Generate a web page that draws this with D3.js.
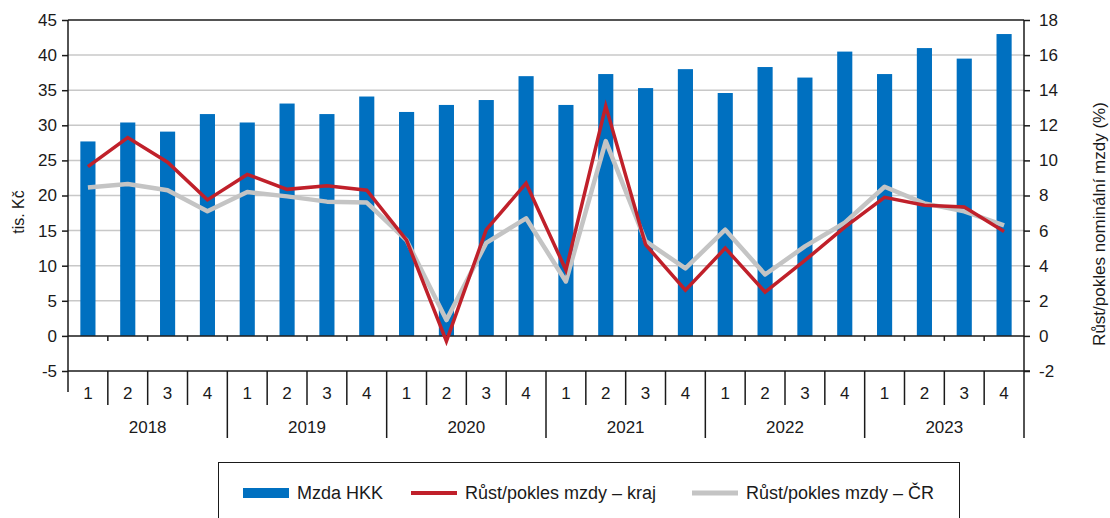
<!DOCTYPE html>
<html>
<head>
<meta charset="utf-8">
<title>Mzda HKK</title>
<script src="https://d3js.org/d3.v7.min.js"></script>
<style>
  body { margin: 0; background: #fff; }
  svg text { font-family: "Liberation Sans", Arial, sans-serif; fill: #1a1a1a; }
</style>
</head>
<body>
<svg width="1110" height="518"></svg>
<script>
// data
const years = ["2018", "2019", "2020", "2021", "2022", "2023"];
const quarters = ["1", "2", "3", "4"];
const wage = [27.7, 30.4, 29.1, 31.6, 30.4, 33.1, 31.6, 34.1, 31.9, 32.9, 33.6, 37.0,
              32.9, 37.3, 35.3, 38.0, 34.6, 38.3, 36.8, 40.5, 37.3, 41.0, 39.5, 43.0];
const growthKraj = [9.65, 11.3, 9.9, 7.75, 9.2, 8.35, 8.55, 8.3, 5.45, -0.3, 6.05, 8.7,
                    3.75, 13.1, 5.2, 2.6, 5.0, 2.5, 4.3, 6.2, 7.9, 7.45, 7.35, 5.95];
const growthCR = [8.45, 8.65, 8.3, 7.1, 8.2, 7.95, 7.65, 7.6, 5.45, 0.9, 5.3, 6.7,
                  3.1, 11.1, 5.4, 3.85, 6.05, 3.5, 5.1, 6.45, 8.5, 7.55, 7.1, 6.3];
const leftTicks = [-5, 0, 5, 10, 15, 20, 25, 30, 35, 40, 45];
const rightTicks = [-2, 0, 2, 4, 6, 8, 10, 12, 14, 16, 18];

const cats = [];
years.forEach(y => quarters.forEach(q => cats.push({ year: y, q: q })));

const svg = d3.select("svg");
const pLeft = 68, pRight = 1024, pTop = 20, pBottom = 371;
const dark = "#1a1a1a";
const fs = 17;

const x = d3.scaleBand().domain(d3.range(cats.length)).range([pLeft, pRight]);
const yL = d3.scaleLinear().domain([-5, 45]).range([pBottom, pTop]);
const yR = d3.scaleLinear().domain([-2, 18]).range([pBottom, pTop]);
const bw = x.step() * 0.38;

// grid
svg.append("g").selectAll("line")
  .data(leftTicks.filter(d => d > 0 && d < 45))
  .join("line")
  .attr("x1", pLeft).attr("x2", pRight)
  .attr("y1", d => yL(d)).attr("y2", d => yL(d))
  .attr("stroke", "#c8c8c8").attr("stroke-width", 1.5);

// bars
svg.append("g").selectAll("rect")
  .data(wage)
  .join("rect")
  .attr("x", (d, i) => x(i) + x.step() / 2 - bw / 2)
  .attr("width", bw)
  .attr("y", d => yL(d))
  .attr("height", d => yL(0) - yL(d))
  .attr("fill", "#0070c0");

// frame
svg.append("line").attr("x1", pLeft).attr("x2", pRight).attr("y1", pTop).attr("y2", pTop)
  .attr("stroke", dark).attr("stroke-width", 1.5);
svg.append("line").attr("x1", pRight).attr("x2", pRight).attr("y1", pTop).attr("y2", pBottom)
  .attr("stroke", dark).attr("stroke-width", 1.5);
svg.append("line").attr("x1", pLeft).attr("x2", pLeft).attr("y1", pTop).attr("y2", 392)
  .attr("stroke", dark).attr("stroke-width", 1.5);

// zero line with small ticks
svg.append("line").attr("x1", pLeft).attr("x2", pRight).attr("y1", yL(0)).attr("y2", yL(0))
  .attr("stroke", dark).attr("stroke-width", 1.5);
svg.append("g").selectAll("line")
  .data(d3.range(1, cats.length))
  .join("line")
  .attr("x1", i => x(i)).attr("x2", i => x(i))
  .attr("y1", yL(0)).attr("y2", yL(0) + 5)
  .attr("stroke", dark).attr("stroke-width", 1.5);

// bottom line and category separators
svg.append("line").attr("x1", pLeft).attr("x2", pRight + 6).attr("y1", pBottom).attr("y2", pBottom)
  .attr("stroke", dark).attr("stroke-width", 1.5);
svg.append("g").selectAll("line")
  .data(d3.range(1, cats.length + 1))
  .join("line")
  .attr("x1", i => i < cats.length ? x(i) : pRight)
  .attr("x2", i => i < cats.length ? x(i) : pRight)
  .attr("y1", pBottom)
  .attr("y2", i => i % 4 === 0 ? 438 : 405)
  .attr("stroke", dark).attr("stroke-width", 1.5);

// left axis
const axL = svg.append("g").attr("transform", `translate(${pLeft},0)`)
  .call(d3.axisLeft(yL).tickValues(leftTicks).tickFormat(d => String(d))
    .tickSize(6).tickSizeOuter(0).tickPadding(5));
axL.select(".domain").remove();
axL.selectAll(".tick line").attr("stroke", dark).attr("stroke-width", 1.5);
axL.selectAll(".tick text").attr("font-size", fs).style("font-family", "Liberation Sans, Arial, sans-serif");

// right axis
const axR = svg.append("g").attr("transform", `translate(${pRight},0)`)
  .call(d3.axisRight(yR).tickValues(rightTicks).tickFormat(d => String(d))
    .tickSize(6).tickSizeOuter(0).tickPadding(9));
axR.select(".domain").remove();
axR.selectAll(".tick line").attr("stroke", dark).attr("stroke-width", 1.5);
axR.selectAll(".tick text").attr("font-size", fs).style("font-family", "Liberation Sans, Arial, sans-serif");

// category labels
svg.append("g").selectAll("text")
  .data(cats)
  .join("text")
  .attr("x", (d, i) => x(i) + x.step() / 2)
  .attr("y", 399)
  .attr("text-anchor", "middle")
  .attr("font-size", fs)
  .text(d => d.q);
svg.append("g").selectAll("text")
  .data(years)
  .join("text")
  .attr("x", (d, j) => (x(j * 4) + (j * 4 + 4 < cats.length ? x(j * 4 + 4) : pRight)) / 2)
  .attr("y", 433)
  .attr("text-anchor", "middle")
  .attr("font-size", fs)
  .text(d => d);

// lines
const lineR = d3.line().x((d, i) => x(i) + x.step() / 2).y(d => yR(d));
svg.append("path").datum(growthCR).attr("d", lineR)
  .attr("fill", "none").attr("stroke", "#c4c4c4").attr("stroke-width", 4.5)
  .attr("stroke-linejoin", "round");
svg.append("path").datum(growthKraj).attr("d", lineR)
  .attr("fill", "none").attr("stroke", "#c0202a").attr("stroke-width", 3.5)
  .attr("stroke-linejoin", "miter");

// axis titles
svg.append("text")
  .attr("transform", "translate(24,212) rotate(-90)")
  .attr("text-anchor", "middle").attr("font-size", 16)
  .text("tis. Kč");
svg.append("text")
  .attr("transform", "translate(1105,224) rotate(-90)")
  .attr("text-anchor", "middle").attr("font-size", fs)
  .text("Růst/pokles nominální mzdy (%)");

// legend
const lg = svg.append("g");
lg.append("rect").attr("x", 218.5).attr("y", 462.5).attr("width", 741).attr("height", 70)
  .attr("fill", "#fff").attr("stroke", dark).attr("stroke-width", 1);
const items = [
  { label: "Mzda HKK", type: "bar", color: "#0070c0", x: 243 },
  { label: "Růst/pokles mzdy – kraj", type: "line", color: "#c0202a", x: 411 },
  { label: "Růst/pokles mzdy – ČR", type: "line", color: "#c4c4c4", x: 692 }
];
items.forEach(it => {
  if (it.type === "bar") {
    lg.append("rect").attr("x", it.x).attr("y", 488).attr("width", 46).attr("height", 10).attr("fill", it.color);
  } else {
    lg.append("line").attr("x1", it.x).attr("x2", it.x + 46).attr("y1", 493).attr("y2", 493)
      .attr("stroke", it.color).attr("stroke-width", it.color === "#c0202a" ? 4 : 5);
  }
  lg.append("text").attr("x", it.x + 54).attr("y", 499).attr("font-size", 18).text(it.label);
});
</script>
</body>
</html>
